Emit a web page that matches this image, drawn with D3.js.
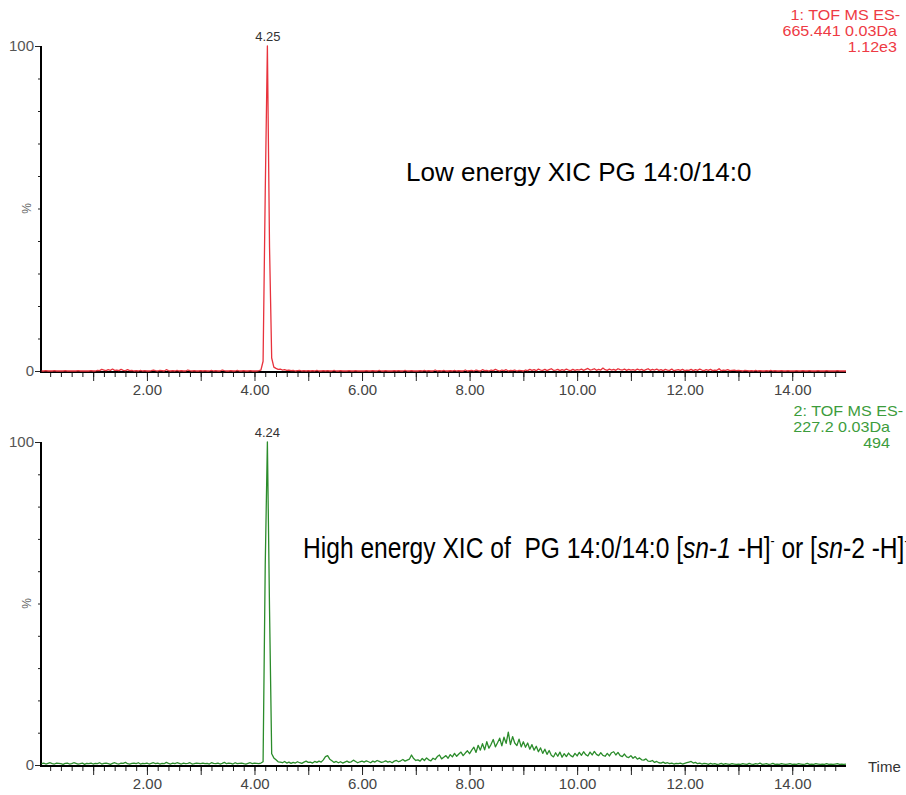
<!DOCTYPE html>
<html><head><meta charset="utf-8">
<script src="https://cdn.jsdelivr.net/npm/d3@7/dist/d3.min.js"></script>
<style>
body{margin:0;background:#fff}
svg{display:block}
text{font-family:"Liberation Sans",Arial,sans-serif}
</style>
</head><body>
<svg id="chart" width="906" height="795"></svg>
<script>
// Sampling interval of both chromatograms (minutes); first sample at 0.04 min
const tStep = 0.04;

// Trace 1: low energy XIC 665.441 (% of 1.12e3), one row per minute
const lowEnergy = [
  0,0,0.1,0,0,0,0.1,0,0,0,0,0.1,0,0,0,0,0,0.1,0,0,0,0,0,0.1,0,
  0,0.2,0.1,0.5,0.3,0.1,0.4,0.2,0.6,0.2,0.3,0.1,0.5,0.2,0.1,0.4,0.1,0.2,0,0.1,0,0.2,0,0.1,0,
  0,0.1,0.3,0.1,0,0.2,0.1,0,0.4,0.1,0,0.1,0,0.2,0,0.1,0,0,0.3,0.1,0,0.1,0,0,0.1,
  0,0.1,0,0,0.2,0,0.1,0,0,0.3,0.1,0,0,0.1,0,0,0.2,0,0,0.1,0,0,0.1,0,0,
  0,0.1,0.3,3,55,100,38,4,1.2,0.8,0.5,0.6,0.3,0.4,0.2,0.3,0.1,0.2,0,0.1,0.2,0,0.1,0,0.1,
  0,0.1,0,0.2,0,0,0.1,0,0.1,0,0,0.2,0,0,0.1,0,0,0,0.1,0,0,0.1,0,0,0,
  0,0.1,0,0,0.1,0,0,0.2,0,0,0.1,0,0,0,0.1,0,0.1,0,0,0.2,0,0,0.1,0,0,
  0,0.1,0,0.2,0,0.1,0,0,0.3,0,0.1,0,0.2,0,0,0.1,0,0.2,0,0.1,0,0,0.3,0,0.1,
  0.2,0,0.3,0.1,0,0.4,0.1,0.2,0,0.3,0.1,0.5,0.2,0,0.3,0.1,0.4,0,0.2,0.1,0.3,0,0.2,0.1,0,
  0.3,0.1,0.5,0.2,0.4,0.1,0.6,0.3,0.2,0.5,0.1,0.4,0.7,0.2,0.3,0.5,0.1,0.4,0.2,0.6,0.3,0.1,0.5,0.2,0.4,
  0.3,0.6,0.2,0.5,0.8,0.3,0.4,0.7,0.2,0.5,0.3,0.9,0.4,0.2,0.6,0.3,0.5,0.2,0.7,0.4,0.3,0.6,0.2,0.5,0.3,
  0.4,0.2,0.6,0.3,0.5,0.1,0.4,0.7,0.2,0.5,0.3,0.6,0.2,0.4,0.1,0.5,0.3,0.2,0.6,0.1,0.3,0.4,0.2,0.5,0.1,
  0.3,0.2,0.5,0.1,0.4,0.2,0.6,0.3,0.1,0.4,0.2,0.5,0.1,0.3,0.2,0.7,0.1,0.3,0.2,0.4,0.1,0.2,0.3,0.1,0.2,
  0.1,0,0.2,0.1,0,0.1,0,0.2,0,0.1,0,0,0.1,0,0.2,0,0.1,0,0,0.1,0,0,0.1,0,0,
  0,0.1,0,0,0.1,0,0,0.1,0,0,0,0.1,0,0,0,0.1,0,0,0,0,0.1,0,0,0,0
];

// Trace 2: high energy XIC 227.2 (% of 494), one row per minute
const highEnergy = [
  0.4,0.6,0.3,0.5,0.7,0.4,0.3,0.6,0.5,0.4,0.2,0.5,0.6,0.3,0.4,0.7,0.5,0.3,0.4,0.6,0.2,0.5,0.4,0.6,0.3,
  0.5,0.4,0.7,0.3,0.5,0.6,0.4,0.2,0.5,0.7,0.4,0.3,0.6,0.5,0.8,0.4,0.3,0.5,0.6,0.4,0.7,0.3,0.5,0.4,0.6,
  0.3,0.5,0.7,0.4,0.6,0.3,0.5,0.4,0.8,0.5,0.3,0.6,0.4,0.7,0.5,0.3,0.6,0.4,0.5,0.7,0.3,0.4,0.6,0.5,0.4,
  0.6,0.4,0.5,0.3,0.7,0.5,0.4,0.6,0.3,0.5,0.8,0.4,0.6,0.5,0.3,0.7,0.4,0.5,0.6,0.4,0.3,0.5,0.7,0.4,0.6,
  0.5,0.4,0.6,1.0,62,100,48,3.5,2.2,1.6,1.0,0.9,0.7,1.1,0.6,0.9,0.5,0.8,0.6,1.0,0.7,0.5,0.9,1.2,0.8,
  0.9,0.6,1.1,0.8,1.2,0.9,1.6,2.6,2.9,1.8,1.3,0.8,1.1,0.7,1.0,0.6,0.9,1.2,0.8,1.0,1.5,1.1,0.7,1.0,1.2,
  0.9,1.3,1.0,0.7,1.2,0.9,1.4,1.1,0.8,1.0,1.3,0.9,1.1,0.7,1.2,1.4,1.0,1.3,1.7,1.2,1.5,1.8,3.1,2.0,1.4,
  1.6,1.2,2.0,1.4,2.2,1.6,1.3,2.1,1.7,2.6,3.1,1.9,2.4,2.9,2.1,3.2,2.5,3.6,2.7,3.4,4.0,2.9,3.7,4.4,3.5,
  4.6,5.5,3.9,6.1,4.6,6.6,4.7,7.2,5.2,6.4,7.9,5.6,6.9,8.3,5.9,8.6,6.7,10.2,6.3,8.8,6.8,6.0,8.0,5.6,7.2,
  5.5,6.8,4.9,6.3,4.6,5.8,4.1,5.3,3.6,4.9,3.3,4.5,3.0,2.5,3.8,2.7,4.0,2.4,3.5,2.6,3.7,2.9,2.5,3.6,2.8,
  3.9,3.0,4.1,3.2,2.8,4.0,3.1,4.2,3.3,2.9,3.8,3.0,2.7,3.6,2.8,3.8,4.1,3.1,3.9,2.9,2.6,3.4,2.5,2.3,2.9,
  2.1,2.6,1.8,2.2,1.6,1.5,1.9,1.2,1.1,1.4,0.8,1.1,0.7,0.6,0.9,0.5,0.7,0.4,0.6,0.3,0.5,0.4,0.6,0.3,0.5,
  0.7,0.9,1.1,0.6,0.8,0.4,0.6,0.3,0.5,0.4,0.2,0.5,0.3,0.4,0.2,0.3,0.5,0.2,0.4,0.3,0.2,0.4,0.3,0.2,0.3,
  0.2,0.4,0.3,0.2,0.5,0.3,0.2,0.4,0.3,0.6,0.2,0.3,0.4,0.2,0.3,0.5,0.2,0.3,0.2,0.4,0.3,0.2,0.3,0.4,0.2,
  0.3,0.2,0.4,0.3,0.2,0.3,0.5,0.2,0.3,0.2,0.4,0.3,0.2,0.3,0.2,0.4,0.2,0.3,0.2,0.3,0.4,0.2,0.3,0.2,0.3
];

const xTickValues = [2, 4, 6, 8, 10, 12, 14];
const xTickLabels = ["2.00", "4.00", "6.00", "8.00", "10.00", "12.00", "14.00"];
const yTickValues = [0, 100];
const yTickLabels = ["0", "100"];
const peakTimes = [4.25, 4.24];
const peakLabels = ["4.25", "4.24"];
const legendLow = ["1: TOF MS ES-", "665.441 0.03Da", "1.12e3"];
const legendHigh = ["2: TOF MS ES-", "227.2 0.03Da", "494"];

const times = lowEnergy.map((_, i) => +((i + 1) * tStep).toFixed(2));

const svg = d3.select("#chart");
svg.append("rect").attr("width", 906).attr("height", 795).attr("fill", "#fff");

const x = d3.scaleLinear().domain([0.03, 15]).range([41, 846]);

const panels = [
  {values: lowEnergy, color: "#e8323c", legendColor: "#ee3a44", y0: 371, y1: 46,
   legend: legendLow, legendY: [20, 36, 52], legendX: [900, 897, 897],
   peak: 0, time: false},
  {values: highEnergy, color: "#2b8c2b", legendColor: "#3c9c3c", y0: 765, y1: 442,
   legend: legendHigh, legendY: [416, 432, 448], legendX: [903, 890, 890],
   peak: 1, time: true}
];

panels.forEach(p => {
  const y = d3.scaleLinear().domain([0, 100]).range([p.y0, p.y1]);
  const g = svg.append("g");

  // minor x ticks (0.2 min)
  const minor = d3.range(1, 75).map(i => +(i * 0.2).toFixed(1));
  g.append("g").attr("transform", `translate(0,${p.y0 + 1})`)
    .call(d3.axisBottom(x).tickValues(minor).tickSize(5).tickSizeOuter(0).tickFormat(""))
    .call(a => a.select(".domain").remove())
    .call(a => a.selectAll(".tick line").attr("stroke", "#222").attr("stroke-width", 1));
  // major x ticks (1 min)
  g.append("g").attr("transform", `translate(0,${p.y0 + 1})`)
    .call(d3.axisBottom(x).tickValues(d3.range(1, 15)).tickSize(9).tickSizeOuter(0).tickFormat(""))
    .call(a => a.select(".domain").remove())
    .call(a => a.selectAll(".tick line").attr("stroke", "#222").attr("stroke-width", 1));
  // x labels
  g.append("g").attr("transform", `translate(0,${p.y0})`)
    .call(d3.axisBottom(x).tickValues(xTickValues).tickSize(0).tickPadding(13)
      .tickFormat((d, i) => xTickLabels[i]))
    .call(a => a.select(".domain").remove())
    .call(a => a.selectAll("text").attr("font-size", 15).attr("fill", "#444")
      .attr("font-family", '"Liberation Sans",Arial,sans-serif'));

  // y minor ticks
  g.append("g").attr("transform", "translate(41,0)")
    .call(d3.axisLeft(y).tickValues(d3.range(10, 100, 10)).tickSize(3).tickSizeOuter(0).tickFormat(""))
    .call(a => a.select(".domain").remove())
    .call(a => a.selectAll(".tick line").attr("stroke", "#222"));
  // y labelled ticks
  g.append("g").attr("transform", "translate(41,0)")
    .call(d3.axisLeft(y).tickValues(yTickValues).tickSize(6).tickPadding(1).tickSizeOuter(0)
      .tickFormat((d, i) => yTickLabels[i]))
    .call(a => a.select(".domain").remove())
    .call(a => a.selectAll(".tick line").attr("stroke", "#222"))
    .call(a => a.selectAll("text").attr("font-size", 15).attr("fill", "#555")
      .attr("font-family", '"Liberation Sans",Arial,sans-serif'));

  // axis lines
  g.append("line").attr("x1", 41).attr("x2", x(15)).attr("y1", p.y0 + 1).attr("y2", p.y0 + 1)
    .attr("stroke", "#000").attr("stroke-width", 2);
  g.append("line").attr("x1", 41).attr("x2", 41).attr("y1", y(100)).attr("y2", p.y0 + 2)
    .attr("stroke", "#000").attr("stroke-width", 2);

  // % label
  g.append("text").attr("transform", `translate(31,${(p.y0 + p.y1) / 2}) rotate(-90)`)
    .attr("text-anchor", "middle").attr("font-size", 12).attr("fill", "#666").text("%");

  // trace
  const line = d3.line().x((d, i) => x(times[i])).y(d => y(d));
  g.append("path").datum(p.values).attr("d", line).attr("fill", "none")
    .attr("stroke", p.color).attr("stroke-width", 1.3).attr("stroke-linejoin", "round");

  // peak label
  g.append("text").attr("x", x(peakTimes[p.peak])).attr("y", y(100) - 5)
    .attr("text-anchor", "middle").attr("font-size", 13).attr("fill", "#333")
    .text(peakLabels[p.peak]);

  // legend
  p.legend.forEach((s, i) => {
    g.append("text").attr("transform", `translate(${p.legendX[i]},${p.legendY[i]}) scale(1.15,1)`)
      .attr("text-anchor", "end").attr("font-size", 14).attr("fill", p.legendColor).text(s);
  });

  if (p.time) {
    g.append("text").attr("x", 868).attr("y", 772).attr("font-size", 15).attr("fill", "#333").text("Time");
  }
});

// annotations
svg.append("text").attr("x", 406).attr("y", 181).attr("font-size", 26).attr("fill", "#000")
  .text("Low energy XIC PG 14:0/14:0");

const hi = svg.append("text").attr("transform", "translate(303,558) scale(0.82,1)")
  .attr("font-size", 30).attr("fill", "#000");
const parts = [
  ["High energy XIC of \u00a0PG 14:0/14:0 [", "n"],
  ["sn", "i"], ["-", "n"], ["1", "i"], ["\u00a0-H]", "n"], ["-", "s"],
  ["\u00a0or [", "n"], ["sn", "i"], ["-2\u00a0-H]", "n"], ["-", "s"]
];
let raised = false;
parts.forEach(([t, k]) => {
  const ts = hi.append("tspan").text(t);
  if (k === "i") ts.attr("font-style", "italic");
  if (k === "s") { ts.attr("font-size", 15).attr("dy", -12); raised = true; }
  else if (raised) { ts.attr("dy", 12); raised = false; }
});
</script>
</body></html>
